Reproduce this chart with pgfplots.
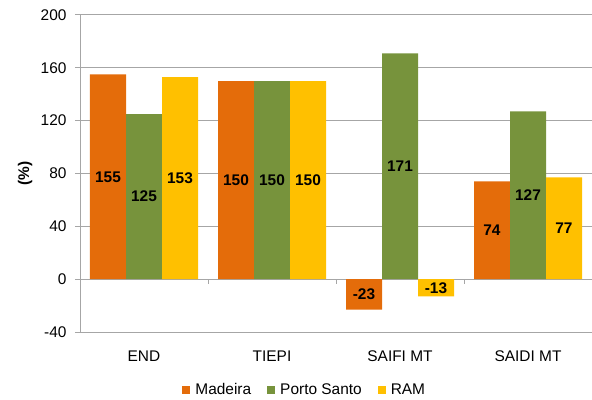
\documentclass[border=0pt]{standalone}
\usepackage{fontspec}
\setmainfont{Liberation Sans}
\usepackage{pgfplots}
\pgfplotsset{compat=1.18}
\definecolor{cMad}{HTML}{E46C0A}
\definecolor{cPS}{HTML}{77933C}
\definecolor{cRAM}{HTML}{FFC000}
\definecolor{gridgray}{HTML}{A6A6A6}
\begin{document}
\begin{tikzpicture}
\begin{axis}[
  at={(80bp,68bp)}, anchor=south west,
  scale only axis, width=512bp, height=317bp,
  font=\fontsize{15.5}{18}\selectfont,
  /pgf/number format/assume math mode=true,
  ybar=0pt, bar width=36bp,
  xmin=-0.5, xmax=3.5, ymin=-40, ymax=200,
  xtick={0,1,2,3}, xticklabels={END,TIEPI,SAIFI MT,SAIDI MT},
  ytick={-40,0,40,80,120,160,200},
  axis y line*=left, axis x line*=bottom,
  axis line style={gridgray, line width=1bp},
  x axis line style={-}, y axis line style={-},
  ymajorgrids, grid style={gridgray, line width=1bp},
  major x tick style={draw=none},
  major y tick style={gridgray, line width=1bp},
  tick align=outside, major tick length=5bp,
  yticklabel style={xshift=-5bp},
  xticklabel style={yshift=-10bp},
  every axis y label/.style={at={(axis description cs:-0.107,0.5)}, anchor=center, rotate=90, font=\fontsize{15.5}{18}\selectfont\bfseries},
  ylabel={(\%)},
  clip=false,
  nodes near coords,
  visualization depends on=y \as \rawy,
  every node near coord/.append style={anchor=center, font=\fontsize{15.5}{18}\selectfont\bfseries, text=black, yshift={-0.6604*\rawy*1bp}},
  legend columns=3,
  legend style={at={(0.439,-0.183)}, anchor=center, draw=none, fill=none,
    font=\fontsize{15.5}{18}\selectfont,
    /tikz/every odd column/.append style={column sep=3bp},
    /tikz/every even column/.append style={column sep=14bp},
    inner sep=0pt},
]
\draw[gridgray, line width=1bp] (axis cs:-0.5,0) -- (axis cs:3.5,0);
\draw[gridgray, line width=1bp] (axis cs:0.5,0) -- ([yshift=-5bp]axis cs:0.5,0);
\draw[gridgray, line width=1bp] (axis cs:1.5,0) -- ([yshift=-5bp]axis cs:1.5,0);
\draw[gridgray, line width=1bp] (axis cs:2.5,0) -- ([yshift=-5bp]axis cs:2.5,0);
\addplot[fill=cMad, draw=none, legend image code/.code={\fill[cMad] (0bp,-4bp) rectangle (8bp,4bp);}] coordinates {(0,155) (1,150) (2,-23) (3,74)};
\addplot[fill=cPS, draw=none, legend image code/.code={\fill[cPS] (0bp,-4bp) rectangle (8bp,4bp);}] coordinates {(0,125) (1,150) (2,171) (3,127)};
\addplot[fill=cRAM, draw=none, legend image code/.code={\fill[cRAM] (0bp,-4bp) rectangle (8bp,4bp);}] coordinates {(0,153) (1,150) (2,-13) (3,77)};
\legend{Madeira,Porto Santo,RAM}
\end{axis}
\pgfresetboundingbox
\path (0,0) rectangle (592bp,400bp);
\end{tikzpicture}
\end{document}
